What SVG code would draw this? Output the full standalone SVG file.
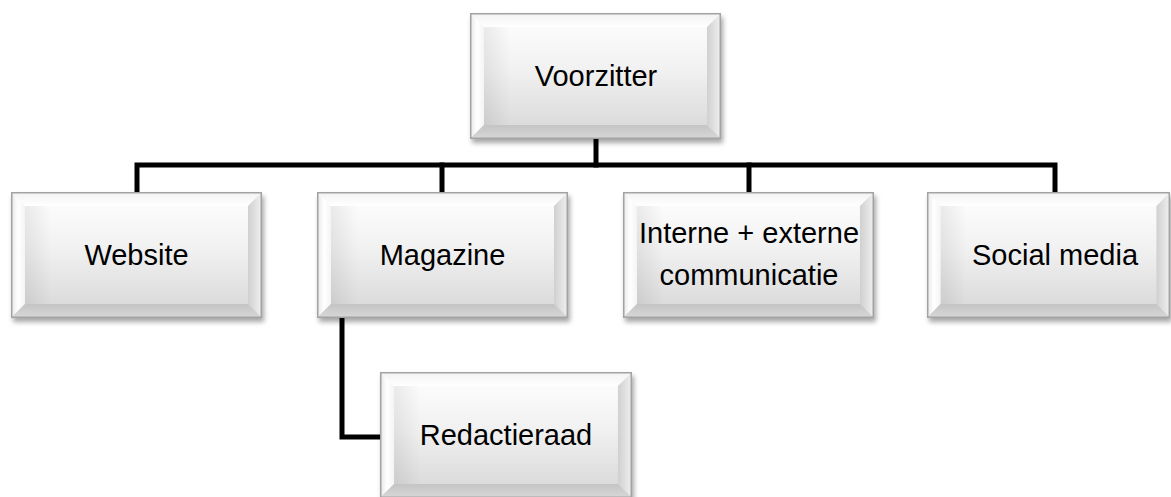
<svg xmlns="http://www.w3.org/2000/svg" xmlns:xlink="http://www.w3.org/1999/xlink" width="1171" height="497" viewBox="0 0 1171 497">
  <style>
    .lbl { font-family: "Liberation Sans", Arial, sans-serif; font-size: 29px; fill: #000; text-anchor: middle; }
    .conn { fill: none; stroke: #000; stroke-width: 5; stroke-linejoin: miter; stroke-linecap: square; }
  </style>
  <defs>
    <linearGradient id="face" x1="0" y1="0" x2="0" y2="1">
      <stop offset="0" stop-color="#ffffff"/>
      <stop offset="0.45" stop-color="#f1f1f1"/>
      <stop offset="1" stop-color="#d6d6d6"/>
    </linearGradient>
    <linearGradient id="faceL" x1="0" y1="0" x2="1" y2="0">
      <stop offset="0" stop-color="#000" stop-opacity="0.07"/>
      <stop offset="0.12" stop-color="#000" stop-opacity="0"/>
    </linearGradient>
    <linearGradient id="bevT" x1="0" y1="0" x2="0" y2="1">
      <stop offset="0" stop-color="#f2f2f2"/>
      <stop offset="1" stop-color="#ffffff"/>
    </linearGradient>
    <linearGradient id="bevL" x1="0" y1="0" x2="1" y2="0">
      <stop offset="0" stop-color="#e6e6e6"/>
      <stop offset="0.5" stop-color="#ffffff"/>
      <stop offset="1" stop-color="#f4f4f4"/>
    </linearGradient>
    <linearGradient id="bevR" x1="0" y1="0" x2="1" y2="0">
      <stop offset="0" stop-color="#d0d0d0"/>
      <stop offset="1" stop-color="#f0f0f0"/>
    </linearGradient>
    <linearGradient id="bevB" x1="0" y1="0" x2="0" y2="1">
      <stop offset="0" stop-color="#c4c4c4"/>
      <stop offset="1" stop-color="#d8d8d8"/>
    </linearGradient>
    <filter id="shadow" x="-5%" y="-5%" width="112%" height="120%">
      <feDropShadow dx="2" dy="4" stdDeviation="2.5" flood-color="#000" flood-opacity="0.35"/>
    </filter>
    <symbol id="bevel" viewBox="0 0 251 126" preserveAspectRatio="none">
      <rect x="0" y="0" width="251" height="126" fill="url(#face)"/>
      <rect x="14" y="14" width="223" height="98" fill="url(#faceL)"/>
      <polygon points="0,0 251,0 237,14 14,14" fill="url(#bevT)"/>
      <polygon points="0,0 14,14 14,112 0,126" fill="url(#bevL)"/>
      <polygon points="251,0 251,126 237,112 237,14" fill="url(#bevR)"/>
      <polygon points="0,126 14,112 237,112 251,126" fill="url(#bevB)"/>
      <rect x="0.75" y="0.75" width="249.5" height="124.5" fill="none" stroke="#a3a3a3" stroke-width="1.5"/>
    </symbol>
  </defs>
  <rect width="1171" height="497" fill="#ffffff"/>

  <g id="connectors">
    <path class="conn" d="M596,139 V165"/>
    <path class="conn" d="M137,192 V165 H1055 V192"/>
    <path class="conn" d="M442,165 V192"/>
    <path class="conn" d="M749,165 V192"/>
    <path class="conn" d="M342,318 V437 H380"/>
  </g>

  <g id="node-voorzitter">
    <use xlink:href="#bevel" href="#bevel" x="470" y="13" width="251" height="126" filter="url(#shadow)"/>
    <text class="lbl" x="596" y="86">Voorzitter</text>
  </g>
  <g id="node-website">
    <use xlink:href="#bevel" href="#bevel" x="11" y="192" width="251" height="126" filter="url(#shadow)"/>
    <text class="lbl" x="136.5" y="265">Website</text>
  </g>
  <g id="node-magazine">
    <use xlink:href="#bevel" href="#bevel" x="317" y="192" width="251" height="126" filter="url(#shadow)"/>
    <text class="lbl" x="442.5" y="265">Magazine</text>
  </g>
  <g id="node-communicatie">
    <use xlink:href="#bevel" href="#bevel" x="623" y="192" width="251" height="126" filter="url(#shadow)"/>
    <text class="lbl" x="749" y="243">Interne + externe</text>
    <text class="lbl" x="749" y="285">communicatie</text>
  </g>
  <g id="node-socialmedia">
    <use xlink:href="#bevel" href="#bevel" x="927" y="192" width="243" height="126" filter="url(#shadow)"/>
    <text class="lbl" x="1055" y="265">Social media</text>
  </g>
  <g id="node-redactieraad">
    <use xlink:href="#bevel" href="#bevel" x="380" y="372" width="252" height="126" filter="url(#shadow)"/>
    <text class="lbl" x="506" y="445">Redactieraad</text>
  </g>
</svg>
